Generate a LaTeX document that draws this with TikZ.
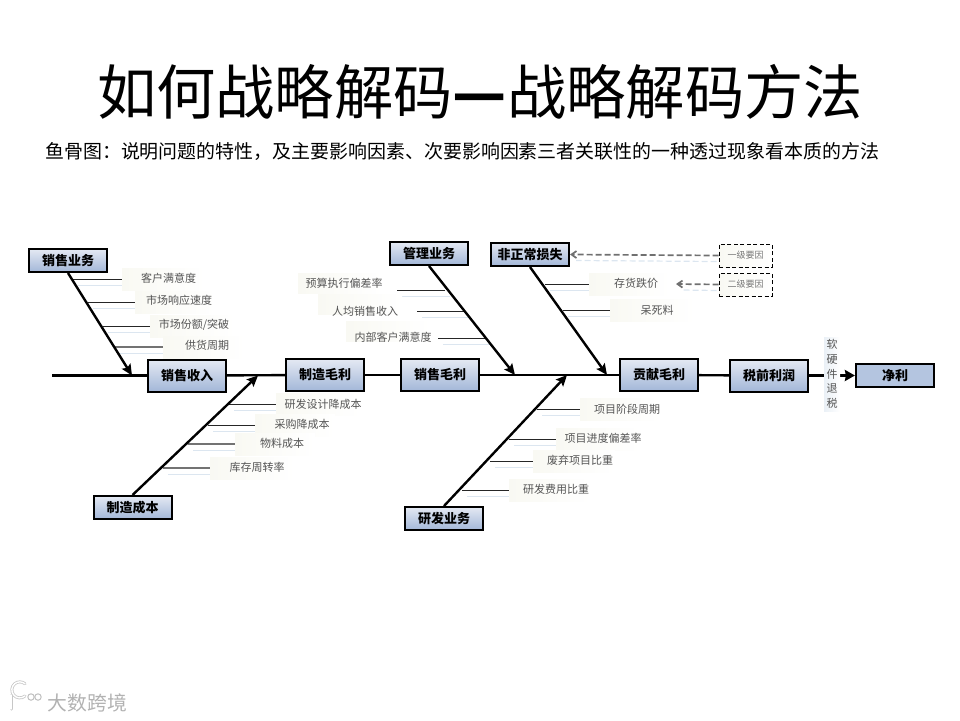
\documentclass[tikz,border=0pt]{standalone}
\usepackage{fontspec}
\setmainfont{Noto Sans CJK SC}
\usetikzlibrary{arrows.meta,calc}
\definecolor{boxtop}{HTML}{E4E9F3}
\definecolor{boxbot}{HTML}{A3B7D8}
\definecolor{flatbox}{HTML}{B4C5E0}
\definecolor{shadowln}{HTML}{DCE6F0}
\definecolor{labtext}{HTML}{555555}
\definecolor{labbgc}{HTML}{F9F9F3}
\definecolor{dashc}{HTML}{707070}
\tikzset{
  x=1pt,y=-1pt,
  kpi/.style={draw=black,line width=2pt,minimum width=78pt,minimum height=32pt,inner sep=0pt,top color=boxtop,bottom color=boxbot,font=\fontsize{13}{13}\selectfont\bfseries},
  cat/.style={kpi,minimum height=23pt},
  flat/.style={draw=black,line width=2.2pt,minimum width=78pt,minimum height=23pt,inner sep=0pt,fill=flatbox,font=\fontsize{13}{13}\selectfont\bfseries},
  spine/.style={line width=2.4pt,black},
  bone/.style={line width=2.4pt,black,-{Stealth[length=11pt,width=10pt,inset=2pt]},shorten <=0pt},
  subbone/.style={line width=.9pt,black!85},
  subgray/.style={line width=1.6pt,black!55},
  subshadow/.style={line width=1pt,shadowln},
  lab/.style={inner sep=0pt,text=labtext,font=\fontsize{11}{11}\selectfont},
  labbg/.style={left color=labbgc,right color=white,draw=none},
  levelbox/.style={draw=black,dashed,dash pattern=on 4pt off 2.5pt,line width=.9pt,minimum width=53pt,minimum height=23pt,inner sep=0pt,left color=labbgc,right color=white,text=labtext!80,font=\fontsize{9}{9}\selectfont},
  levelarrow/.style={draw=dashc,line width=1.7pt,dash pattern=on 6pt off 3pt,-{Straight Barb[length=5pt,width=7pt]}},
  levelshadow/.style={draw=shadowln,line width=1.2pt,dash pattern=on 6pt off 3pt},
}
% x-start, x-end, y, bg-right, text-x, text-y, name, text, style
\newcommand{\sublab}[9]{%
  \path[labbg] (#2,#3-11) rectangle (#4,#3+11);
  \coordinate (#7a) at (#1,#3);
  \coordinate (#7b) at (#2,#3);
  \draw[subshadow] ($(#7a)+(5,6)$) -- ($(#7b)+(0,6)$);
  \draw[#9] (#7a) -- (#7b);
  \node[lab] (#7) at (#5,#6) {#8};
}
% same but label stands left of the line
\newcommand{\sublabL}[9]{%
  \path[labbg] (#4,#3-17) rectangle (#4+84,#3+3);
  \coordinate (#7a) at (#2,#3);
  \coordinate (#7b) at (#1,#3);
  \draw[subshadow] ($(#7b)+(5,6)$) -- ($(#7a)+(5,6)$);
  \draw[#9] (#7a) -- (#7b);
  \node[lab] (#7) at (#5,#6) {#8};
}
\begin{document}
\begin{tikzpicture}
\useasboundingbox (0,0) rectangle (960,720);
\node[inner sep=0pt,font=\fontsize{59.3}{59.3}\selectfont] (title) at (480,92) {如何战略解码{\bfseries —}战略解码方法};
\node[inner sep=0pt,anchor=west,font=\fontsize{18.95}{19}\selectfont] (subtitle) at (45,151.5) {鱼骨图：说明问题的特性，及主要影响因素、次要影响因素三者关联性的一种透过现象看本质的方法};

% label backgrounds and sub bones
\sublab{73}{122}{279}{205}{168.5}{278}{l1}{客户满意度}{subbone}
\sublab{88}{135}{302}{215}{179}{300.5}{l2}{市场响应速度}{subbone}
\sublab{103}{150}{326.5}{235}{194}{325}{l3}{市场份额/突破}{subbone}
\sublab{115}{163}{347}{245}{207}{345}{l4}{供货周期}{subgray}
\sublabL{397}{445}{290}{298}{344}{283}{m1}{预算执行偏差率}{subbone}
\sublabL{417}{464}{311}{318}{365}{311}{m2}{人均销售收入}{subbone}
\sublabL{438}{485}{338}{346}{393}{337}{m3}{内部客户满意度}{subbone}
\sublab{545}{589}{284}{670}{636}{283}{n1}{存货跌价}{subbone}
\sublab{563}{610}{310}{695}{657}{310}{n2}{呆死料}{subbone}
\sublab{229}{276}{404}{360}{323}{404}{p1}{研发设计降成本}{subbone}
\sublab{208}{255}{425}{335}{302}{424}{p2}{采购降成本}{subbone}
\sublab{188}{235}{444}{315}{282}{443}{p3}{物料成本}{subgray}
\sublab{163}{210}{468}{295}{257}{467}{p4}{库存周转率}{subgray}
\sublab{537}{580}{409}{660}{627}{409}{q1}{项目阶段周期}{subbone}
\sublab{509}{556}{439}{640}{603}{438}{q2}{项目进度偏差率}{subbone}
\sublab{490}{533}{461}{615}{580}{460}{q3}{废弃项目比重}{subbone}
\sublab{462}{509}{490}{590}{556}{489}{q4}{研发费用比重}{subbone}

% nodes on the spine
\coordinate (start) at (52,375.5);
\node[kpi] (sr) at (187,375.5) {销售收入};
\node[kpi] (zz) at (325,375) {制造毛利};
\node[kpi] (xs) at (440,375) {销售毛利};
\node[kpi] (gx) at (659,375) {贡献毛利};
\node[kpi] (sq) at (769,375.5) {税前利润};
\node[flat] (jl) at (895,375.5) {净利};
% category boxes
\node[cat] (c1) at (68,260.5) {销售业务};
\node[cat] (c2) at (429,253.5) {管理业务};
\node[cat] (c3) at (530,254.5) {非正常损失};
\node[cat] (c4) at (132.5,507.5) {制造成本};
\node[cat] (c5) at (444,518.5) {研发业务};

\draw[spine] (start) -- (sr);
\draw[spine] (sr) -- (zz);
\draw[spine] (zz) -- (xs);
\draw[spine] (xs) -- (gx);
\draw[spine] (gx) -- (sq);
\draw[spine,-{Stealth[length=10pt,width=11pt,inset=1pt]}] (sq) -- (jl);

% main bones
\coordinate (t1) at (132,375.5);
\coordinate (t2) at (515,375);
\coordinate (t3) at (607,375);
\coordinate (t4) at (258,375.5);
\coordinate (t5) at (567,375);
\draw[bone] (c1.south) -- (t1);
\draw[bone] (c2.south) -- (t2);
\draw[bone] (c3.south) -- (t3);
\draw[bone] (c4.north) -- (t4);
\draw[bone] (c5.north) -- (t5);

% vertical label over the last connector
\node[inner sep=0pt,left color=shadowln!60,right color=white,minimum width=16pt,minimum height=74pt,text=labtext,align=center,font=\fontsize{11}{14.7}\selectfont] (tui) at (832,374) {软\\硬\\件\\退\\税};

% legend
\node[levelbox] (lv1) at (745.5,255.5) {一级要因};
\node[levelbox] (lv2) at (745.5,284.5) {二级要因};
\coordinate (lv2t) at (676,284);
\draw[levelshadow] ($(lv1.west)+(-2,6)$) -- ($(c3.east)+(6,6)$);
\draw[levelshadow] ($(lv2.west)+(-2,6)$) -- ($(lv2t)+(6,6)$);
\draw[levelarrow] (lv1.west) -- (c3.east);
\draw[levelarrow] (lv2.west) -- (lv2t);

% watermark
\node[inner sep=0pt,text=black!30,font=\fontsize{19.8}{20}\selectfont] (wm) at (87.5,703) {大数跨境};
\draw[black!22,line width=3pt,line cap=round] (11,695) -- (11,709);
\draw[black!22,line width=3pt,line cap=round] (25,696) arc (50:310:8);
\draw[white,line width=1.4pt,line cap=round] (11,695) -- (11,709);
\draw[white,line width=1.4pt,line cap=round] (25,696) arc (50:310:8);
\draw[black!25,line width=1pt,fill=white] (31,697) circle (3.2);
\draw[black!25,line width=1pt,fill=white] (38,697) circle (3.2);
\end{tikzpicture}
\end{document}
